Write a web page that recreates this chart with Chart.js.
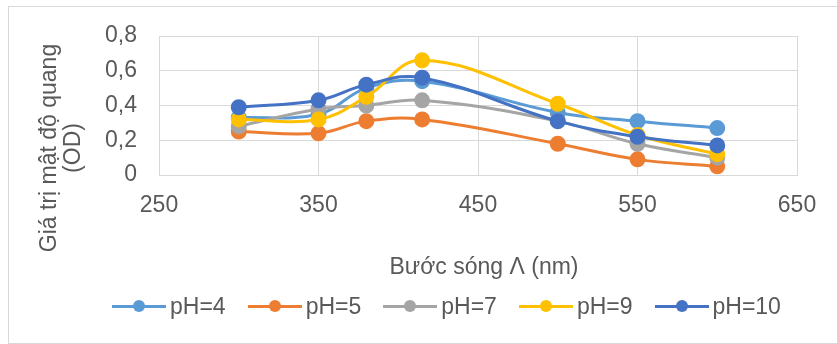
<!DOCTYPE html>
<html>
<head>
<meta charset="utf-8">
<script src="https://cdn.jsdelivr.net/npm/chart.js@4.4.1/dist/chart.umd.min.js"></script>
<style>
  body { margin: 0; background: #fff; }
  #wrap { position: relative; width: 837px; height: 344px; overflow: hidden; font-family: "Liberation Sans", Arial, sans-serif; }
  #frame { position: absolute; left: 8px; top: 6px; width: 840px; height: 336px; border: 1px solid #d9d9d9; }
  #chartCanvas { position: absolute; left: 0; top: 0; }
  #legend { position: absolute; left: 112px; top: 292px; height: 28px; display: flex; align-items: center; gap: 22px; }
  .item { display: flex; align-items: center; gap: 4px; font-size: 23px; color: #595959; }
  .swatch { position: relative; width: 54px; height: 3px; }
  .swatch span { position: absolute; left: 21px; top: -5px; width: 12px; height: 12px; border-radius: 50%; }
</style>
</head>
<body>
<div id="wrap">
  <div id="frame"></div>
  <canvas id="chartCanvas" width="837" height="344"></canvas>
  <div id="legend"></div>
</div>
<script>
// wavelengths (nm)
const wavelengths = [300, 350, 380, 415, 500, 550, 600];

// optical density per pH
const pH4  = [0.33, 0.35, 0.50, 0.54, 0.36, 0.31, 0.27];
const pH5  = [0.25, 0.24, 0.31, 0.32, 0.18, 0.09, 0.05];
const pH7  = [0.28, 0.38, 0.40, 0.43, 0.31, 0.18, 0.10];
const pH9  = [0.32, 0.32, 0.45, 0.66, 0.41, 0.23, 0.12];
const pH10 = [0.39, 0.43, 0.52, 0.56, 0.31, 0.22, 0.17];

const seriesNames = ["pH=4", "pH=5", "pH=7", "pH=9", "pH=10"];
const seriesColors = ["#5B9BD5", "#ED7D31", "#A5A5A5", "#FFC000", "#4472C4"];
const seriesValues = [pH4, pH5, pH7, pH9, pH10];

const xTicks = [250, 350, 450, 550, 650];
const yTicks = [0, 0.2, 0.4, 0.6, 0.8];

const xTitle = "Bước sóng Λ (nm)";
const yTitleLines = ["Giá trị mật độ quang", "(OD)"];

const textColor = "#595959";
const gridColor = "#d9d9d9";
const fontFamily = '"Liberation Sans", Arial, sans-serif';

const datasets = seriesNames.map((name, i) => ({
    label: name,
    data: wavelengths.map((w, j) => ({ x: w, y: seriesValues[i][j] })),
    borderColor: seriesColors[i],
    backgroundColor: seriesColors[i],
    pointBackgroundColor: seriesColors[i],
    pointBorderColor: seriesColors[i],
    borderWidth: 3,
    pointRadius: 6.5,
    pointHoverRadius: 6.5,
    tension: 0.4,
    order: seriesNames.length - i, // later series drawn on top, like Excel
}));

// axis titles drawn by hand so they sit where Excel put them
const axisTitles = {
    id: "axisTitles",
    afterDraw(chart) {
        const ctx = chart.ctx;
        ctx.save();
        ctx.fillStyle = textColor;
        ctx.font = "23px " + fontFamily;
        ctx.textAlign = "center";
        ctx.textBaseline = "middle";
        ctx.fillText(xTitle, 484, 268);
        ctx.textBaseline = "alphabetic";
        ctx.translate(56, 148);
        ctx.rotate(-Math.PI / 2);
        ctx.fillText(yTitleLines[0], 0, 0);
        ctx.fillText(yTitleLines[1], 0, 24);
        ctx.restore();
    }
};

const ctx = document.getElementById("chartCanvas").getContext("2d");
const chart = new Chart(ctx, {
    type: "line",
    data: { datasets },
    options: {
        responsive: false,
        animation: false,
        events: [],
        layout: { padding: { left: 0, right: 40, top: 36, bottom: 0 } },
        plugins: {
            legend: { display: false },
            tooltip: { enabled: false },
        },
        scales: {
            x: {
                type: "linear",
                min: xTicks[0],
                max: xTicks[xTicks.length - 1],
                afterBuildTicks: scale => { scale.ticks = xTicks.map(v => ({ value: v })); },
                afterFit: scale => { scale.height = 169; },
                grid: { color: gridColor, lineWidth: 1, drawTicks: false },
                border: { color: gridColor, width: 1 },
                ticks: { color: textColor, font: { size: 23, family: fontFamily }, padding: 17, maxRotation: 0 },
            },
            y: {
                min: yTicks[0],
                max: yTicks[yTicks.length - 1],
                afterBuildTicks: scale => { scale.ticks = yTicks.map(v => ({ value: v })); },
                afterFit: scale => { scale.width = 159; },
                grid: { color: gridColor, lineWidth: 1, drawTicks: false },
                border: { display: false },
                ticks: {
                    color: textColor,
                    font: { size: 23, family: fontFamily },
                    padding: 22,
                    callback: v => v === 0 ? "0" : v.toFixed(1).replace(".", ","),
                },
            },
        },
    },
    plugins: [axisTitles],
});

// legend: line + marker, then label
const legend = document.getElementById("legend");
seriesNames.forEach((name, i) => {
    const item = document.createElement("div");
    item.className = "item";
    const sw = document.createElement("div");
    sw.className = "swatch";
    sw.style.background = seriesColors[i];
    const dot = document.createElement("span");
    dot.style.background = seriesColors[i];
    sw.appendChild(dot);
    const label = document.createElement("div");
    label.textContent = name;
    item.appendChild(sw);
    item.appendChild(label);
    legend.appendChild(item);
});
</script>
</body>
</html>
